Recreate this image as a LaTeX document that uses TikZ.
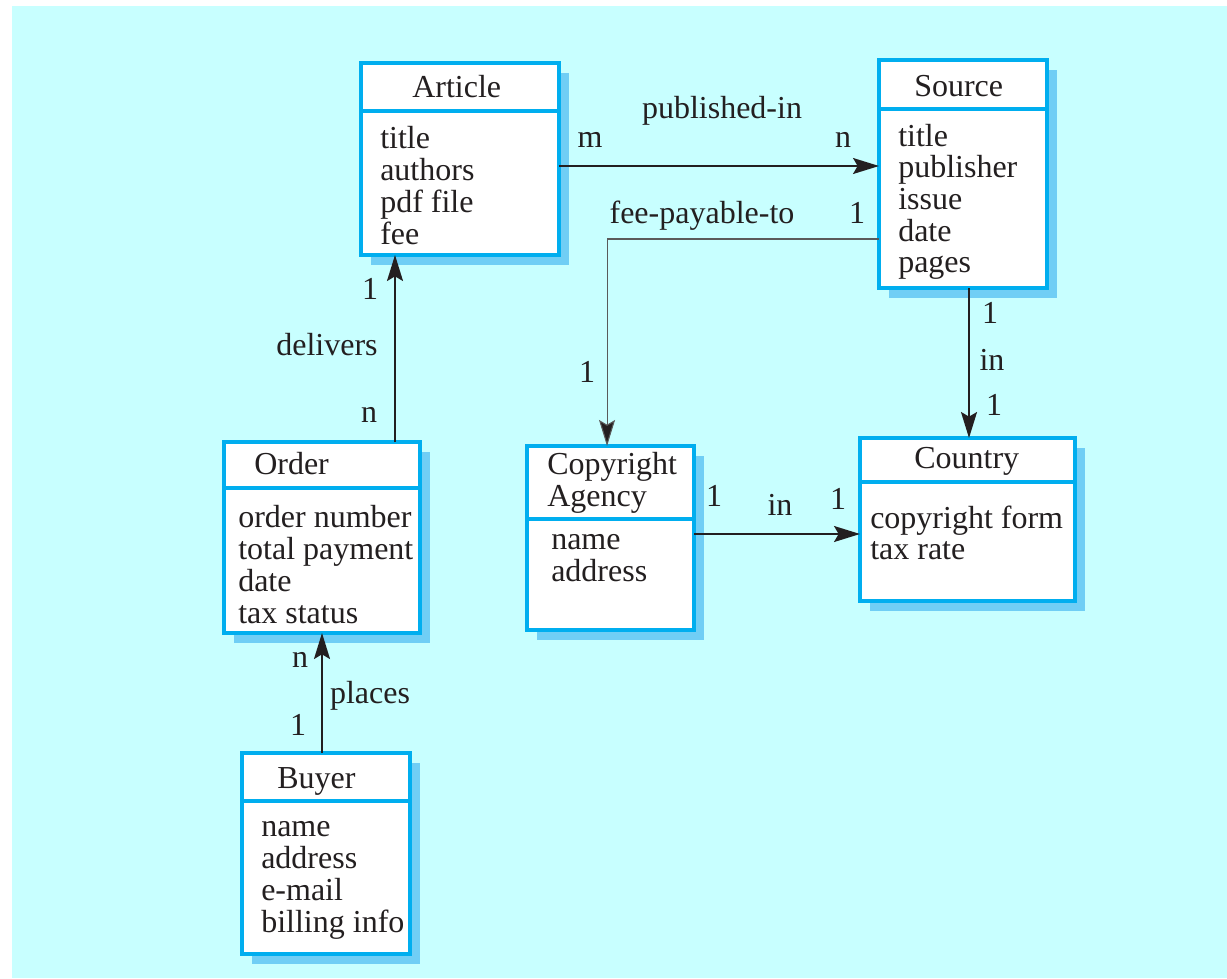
\documentclass[tikz,border=0pt]{standalone}
\usepackage{fontspec}
\setmainfont{Liberation Serif}
\usetikzlibrary{arrows.meta,shadows}
\definecolor{bgcyan}{RGB}{200,255,255}
\definecolor{boxblue}{RGB}{0,174,239}
\definecolor{shadowblue}{RGB}{112,206,245}
\definecolor{ink}{RGB}{35,31,32}
\definecolor{feegray}{RGB}{90,90,90}
\tikzset{
  entity/.style={draw=boxblue, line width=2.6pt, fill=white, inner sep=0pt, outer sep=0pt,
    anchor=north west,
    drop shadow={shadow xshift=7.5pt, shadow yshift=-7.5pt, fill=shadowblue, opacity=1}},
  divider/.style={draw=boxblue, line width=2.3pt},
  txt/.style={anchor=base west, inner sep=0pt, text=ink, font=\fontsize{24pt}{32pt}\selectfont},
  lbl/.style={anchor=base, inner sep=0pt, text=ink, font=\fontsize{24pt}{32pt}\selectfont},
  arr/.style={draw=ink, line width=1.3pt, -{Stealth[length=19.5pt, width=12pt, inset=3.5pt]}},
  feearr/.style={draw=feegray, line width=0.8pt, -{Stealth[length=19.5pt, width=12pt, inset=3.5pt, fill=ink]}},
}
\begin{document}
\begin{tikzpicture}[x=0.75pt,y=-0.75pt]
\useasboundingbox (0,0) rectangle (1227,978);
\fill[white] (0,0) rectangle (1227,978);
\fill[bgcyan] (12,6) rectangle (1227,978);

% entity boxes
\node[entity, minimum width=148.5pt, minimum height=144pt] (article) at (361,63) {};
\node[entity, minimum width=126pt, minimum height=171pt] (source) at (879,60) {};
\node[entity, minimum width=147pt, minimum height=143.25pt] (order) at (224,442) {};
\node[entity, minimum width=126pt, minimum height=150.75pt] (buyer) at (242,753) {};
\node[entity, minimum width=125.25pt, minimum height=138pt] (ca) at (527,446) {};
\node[entity, minimum width=161.25pt, minimum height=122.25pt] (country) at (860,438) {};

% header dividers
\draw[divider] (article.west |- 0,111) -- (article.east |- 0,111);
\draw[divider] (source.west |- 0,109) -- (source.east |- 0,109);
\draw[divider] (order.west |- 0,488) -- (order.east |- 0,488);
\draw[divider] (buyer.west |- 0,801) -- (buyer.east |- 0,801);
\draw[divider] (ca.west |- 0,519) -- (ca.east |- 0,519);
\draw[divider] (country.west |- 0,482) -- (country.east |- 0,482);

% headers
\node[txt] (article-h) at (412,97) {Article};
\node[txt] (source-h) at (914,96) {Source};
\node[txt] (order-h) at (254,474) {Order};
\node[txt] (buyer-h) at (277,788) {Buyer};
\node[txt] (ca-h1) at (547,474) {Copyright};
\node[txt] (ca-h2) at (547,506) {Agency};
\node[txt] (country-h) at (914,468) {Country};

% attributes
\foreach \t [count=\i from 0] in {title,authors,pdf file,fee}
  \node[txt] (article-a\i) at (380,148+32*\i) {\t};
\foreach \t [count=\i from 0] in {title,publisher,issue,date,pages}
  \node[txt] (source-a\i) at (898,146+31.7*\i) {\t};
\foreach \t [count=\i from 0] in {order number,total payment,date,tax status}
  \node[txt] (order-a\i) at (238,527+32*\i) {\t};
\foreach \t [count=\i from 0] in {name,address,e-mail,billing info}
  \node[txt] (buyer-a\i) at (261,836+32*\i) {\t};
\foreach \t [count=\i from 0] in {name,address}
  \node[txt] (ca-a\i) at (551,549+32*\i) {\t};
\foreach \t [count=\i from 0] in {copyright form,tax rate}
  \node[txt] (country-a\i) at (870,528+31.5*\i) {\t};

% connectors
\draw[arr] ([yshift=-5.25pt]article.east) -- ([yshift=-5.25pt]article.east -| source.west);
\draw[feearr] ([yshift=-48.75pt]source.west) -| ([xshift=-2.6pt]ca.north);
\draw[arr] ([xshift=4.5pt]source.south) -- ([xshift=4.5pt]source.south |- country.north);
\draw[arr] ([yshift=3pt]ca.east) -- ([yshift=3pt]ca.east -| country.west);
\draw[arr] ([xshift=54.75pt]order.north) -- ([xshift=54.75pt]order.north |- article.south);
\draw[arr] (order.south |- buyer.north) -- (order.south);

% labels
\node[lbl] (l-pub) at (722,118) {published-in};
\node[lbl] (l-m) at (590,147) {m};
\node[lbl] (l-n1) at (843,147) {n};
\node[lbl] (l-fee) at (702,223) {fee-payable-to};
\node[lbl] (l-fee1) at (857,223) {1};
\node[lbl] (l-fee2) at (587,382) {1};
\node[lbl] (l-ci1) at (714,506) {1};
\node[lbl] (l-ci) at (780,515) {in};
\node[lbl] (l-ci2) at (838,509) {1};
\node[lbl] (l-si1) at (990,323) {1};
\node[lbl] (l-si) at (992,370) {in};
\node[lbl] (l-si2) at (994,415) {1};
\node[lbl] (l-d1) at (370,299) {1};
\node[lbl] (l-del) at (327,355) {delivers};
\node[lbl] (l-dn) at (369,422) {n};
\node[lbl] (l-pn) at (300,667) {n};
\node[lbl] (l-pl) at (370,703) {places};
\node[lbl] (l-p1) at (298,735) {1};
\end{tikzpicture}
\end{document}
